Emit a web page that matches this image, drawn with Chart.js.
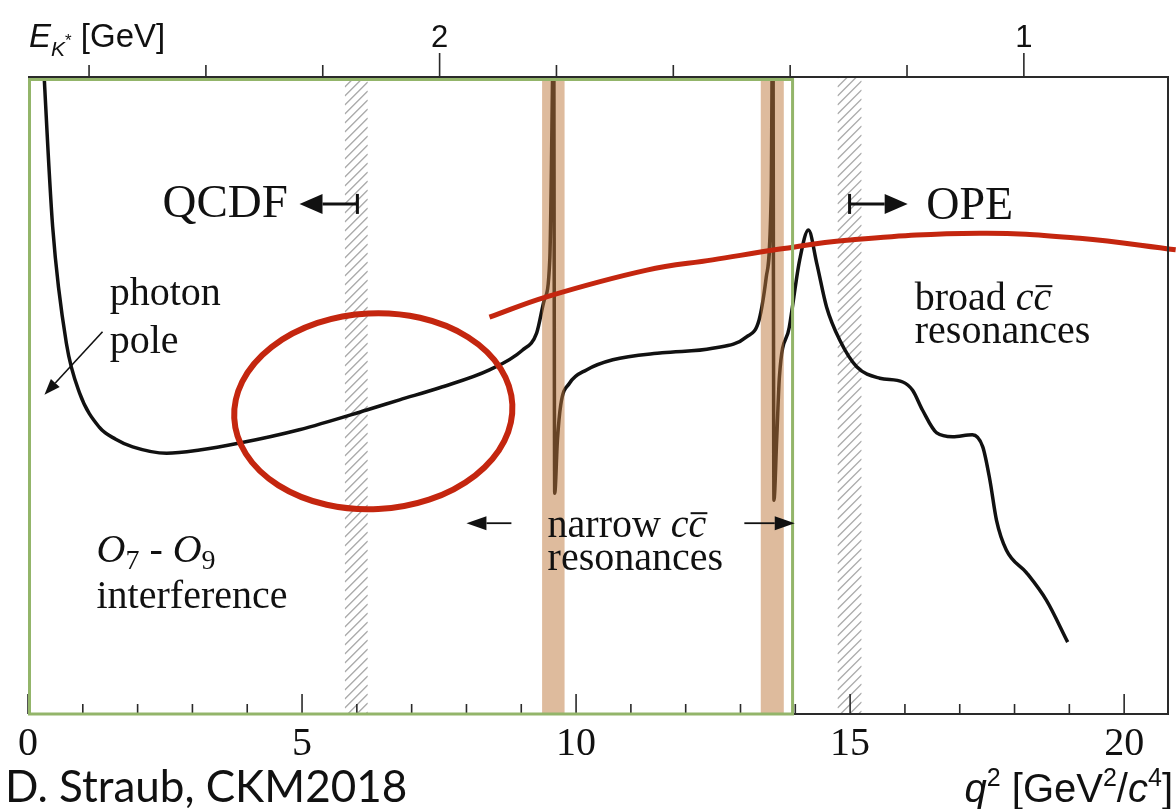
<!DOCTYPE html>
<html>
<head>
<meta charset="utf-8">
<script src="https://cdn.jsdelivr.net/npm/chart.js@4.4.1/dist/chart.umd.min.js"></script>
<style>
  html, body { margin: 0; padding: 0; background: #fff; }
</style>
</head>
<body>
<canvas id="chart" width="1176" height="809"></canvas>
<script>
// ─── Data ─────────────────────────────────────────────────────────────────────

// q² in GeV²/c⁴ ; curve height in arbitrary units (0 = frame bottom, 100 = frame top)
const Q2_MAX = 20.8;
const Y_MAX = 100;

// E_K* [GeV] at the left and right edges of the frame (top axis)
const EK_AT_LEFT = 2.7045;
const EK_AT_RIGHT = 0.7533;

const CURVE_Q2 = [
  0.28, 0.30, 0.45, 0.70, 0.94, 1.30, 1.60, 1.91, 2.53, 3.13, 3.86, 4.95, 6.18, 6.78, 7.51,
  8.42, 9.02, 9.28, 9.42, 9.52, 9.57, 9.59, 9.61, 9.66, 9.72, 9.88, 10.19, 10.67,
  11.57, 12.49, 13.11, 13.34, 13.47, 13.56, 13.59, 13.61, 13.66, 13.71, 13.89, 14.08,
  14.24, 14.39, 14.57, 14.81, 15.12, 15.54, 15.96, 16.14, 16.32, 16.58, 16.87, 17.23,
  17.42, 17.55, 17.67, 17.85, 18.22, 18.58, 18.97,
];
const CURVE_Y = [
  103, 99.4, 76.6, 58.3, 50.5, 45.1, 43.2, 42.0, 41.0, 41.5, 42.6, 44.7, 47.8, 49.4, 51.3,
  54.1, 57.2, 59.9, 65.1, 71.4, 99.7, 115, 34.7, 43.1, 48.6, 52.0, 54.1, 55.7,
  56.8, 57.5, 59.3, 62.0, 68.7, 81.9, 115, 33.6, 43.1, 53.0, 60.8, 71.4,
  76.1, 70.9, 64.0, 58.8, 54.6, 52.8, 52.2, 50.9, 47.8, 44.2, 43.6, 43.9,
  42.0, 36.8, 30.5, 25.8, 22.2, 17.9, 11.3,
];

// red hand-drawn stroke over the plot
const ARC_Q2 = [8.42, 9.46, 11.29, 12.49, 13.72, 14.94, 17.36, 19.19, 20.94];
const ARC_Y = [62.4, 65.6, 69.8, 71.4, 73.1, 74.5, 75.6, 74.8, 73.0];

// vetoed regions
const NARROW_BANDS = [[9.38, 9.79], [13.37, 13.79]];
const HATCH_BANDS = [[5.78, 6.2], [14.77, 15.21]];
const GREEN_BOX = [0, 13.95];

// axes
const Q2_TICKS = [0, 1, 2, 3, 4, 5, 6, 7, 8, 9, 10, 11, 12, 13, 14, 15, 16, 17, 18, 19, 20];
const Q2_LABELS = [0, 5, 10, 15, 20];
const EK_TICKS = [2.6, 2.4, 2.2, 2.0, 1.8, 1.6, 1.4, 1.2, 1.0];
const EK_LABELS = [2, 1];

// ─── Styling / annotation placement ─────────────────────────────────────────────

const SERIF = '"Liberation Serif", "Times New Roman", serif';
const SANS = '"Liberation Sans", Arial, sans-serif';
const RED = '#c4260f';

const RING = { q2: 6.30, y: 47.6, dq2: 2.54, dy: 15.4, tilt: -0.05 };

const serif = (size, italic) => `${italic ? 'italic ' : ''}${size}px ${SERIF}`;
const sans = (size, italic) => `${italic ? 'italic ' : ''}${size}px ${SANS}`;

// parts: [text, font, dy, overline]
const rich = (ctx, parts, x, y, align = 'left') => {
  let w = 0;
  parts.forEach(([t, f]) => { ctx.font = f; w += ctx.measureText(t).width; });
  let cx = align === 'right' ? x - w : x;
  ctx.textAlign = 'left';
  parts.forEach(([t, f, dy = 0, bar = false]) => {
    ctx.font = f;
    const tw = ctx.measureText(t).width;
    ctx.fillText(t, cx, y + dy);
    if (bar) {
      const size = parseFloat(f.match(/(\d+)px/)[1]);
      ctx.lineWidth = 2;
      ctx.beginPath();
      ctx.moveTo(cx + 2, y + dy - size * 0.6);
      ctx.lineTo(cx + tw + 1, y + dy - size * 0.6);
      ctx.stroke();
    }
    cx += tw;
  });
};

const arrow = (ctx, x1, y1, x2, y2, head, half, width) => {
  const ang = Math.atan2(y2 - y1, x2 - x1);
  const bx = x2 - head * Math.cos(ang);
  const by = y2 - head * Math.sin(ang);
  ctx.lineWidth = width;
  ctx.beginPath();
  ctx.moveTo(x1, y1);
  ctx.lineTo(bx, by);
  ctx.stroke();
  ctx.beginPath();
  ctx.moveTo(x2, y2);
  ctx.lineTo(bx + half * Math.sin(ang), by - half * Math.cos(ang));
  ctx.lineTo(bx - half * Math.sin(ang), by + half * Math.cos(ang));
  ctx.closePath();
  ctx.fill();
};

// ─── Drawing helpers ──────────────────────────────────────────────────────────

const drawHatch = (chart) => {
  const { ctx, chartArea: { top, bottom } } = chart;
  const xs = chart.scales.x;
  ctx.save();
  ctx.strokeStyle = '#acacac';
  ctx.lineWidth = 1.4;
  HATCH_BANDS.forEach(([a, b]) => {
    const x0 = xs.getPixelForValue(a);
    const x1 = xs.getPixelForValue(b);
    const w = x1 - x0;
    ctx.save();
    ctx.beginPath();
    ctx.rect(x0, top, w, bottom - top);
    ctx.clip();
    ctx.beginPath();
    for (let y = top - w; y < bottom + w; y += 9) {
      ctx.moveTo(x0, y + w);
      ctx.lineTo(x1, y);
    }
    ctx.stroke();
    ctx.restore();
  });
  ctx.restore();
};

const drawBands = (chart) => {
  const { ctx, chartArea: { top, bottom } } = chart;
  const xs = chart.scales.x;
  ctx.save();
  ctx.fillStyle = 'rgba(190, 120, 60, 0.5)';
  NARROW_BANDS.forEach(([a, b]) => {
    const x0 = xs.getPixelForValue(a);
    ctx.fillRect(x0, top, xs.getPixelForValue(b) - x0, bottom - top);
  });
  ctx.restore();
};

const drawFrame = (chart) => {
  const { ctx, chartArea: { left, right, top, bottom } } = chart;
  const xs = chart.scales.x;
  const xt = chart.scales.xTop;
  ctx.save();
  ctx.strokeStyle = '#2a2a2a';
  ctx.lineWidth = 2;
  ctx.beginPath();
  ctx.moveTo(left, top - 1);
  ctx.lineTo(right, top - 1);
  ctx.lineTo(right, bottom);
  ctx.lineTo(left, bottom);
  ctx.stroke();

  ctx.lineWidth = 1.6;
  ctx.beginPath();
  Q2_TICKS.forEach((q) => {
    const x = xs.getPixelForValue(q);
    ctx.moveTo(x, bottom);
    ctx.lineTo(x, bottom - (Q2_LABELS.includes(q) ? 20 : 10));
  });
  EK_TICKS.forEach((e) => {
    const x = xt.getPixelForValue(e);
    ctx.moveTo(x, top - 1);
    ctx.lineTo(x, top - 1 - (EK_LABELS.includes(e) ? 24 : 12));
  });
  ctx.stroke();

  ctx.strokeStyle = '#93b56a';
  ctx.lineWidth = 3;
  const gx0 = xs.getPixelForValue(GREEN_BOX[0]) + 1.5;
  const gx1 = xs.getPixelForValue(GREEN_BOX[1]);
  ctx.strokeRect(gx0, top + 1.5, gx1 - gx0, bottom - top - 1.5);

  ctx.fillStyle = '#111';
  ctx.textAlign = 'center';
  ctx.textBaseline = 'alphabetic';
  ctx.font = serif(40);
  Q2_LABELS.forEach((q) => ctx.fillText(String(q), xs.getPixelForValue(q), bottom + 41));
  ctx.font = sans(31);
  EK_LABELS.forEach((e) => ctx.fillText(String(e), xt.getPixelForValue(e), top - 31));
  ctx.restore();
};

const drawRing = (chart) => {
  const { ctx } = chart;
  const xs = chart.scales.x;
  const ys = chart.scales.y;
  const cx = xs.getPixelForValue(RING.q2);
  const cy = ys.getPixelForValue(RING.y);
  const rx = xs.getPixelForValue(RING.q2 + RING.dq2) - cx;
  const ry = cy - ys.getPixelForValue(RING.y + RING.dy);
  ctx.save();
  ctx.strokeStyle = RED;
  ctx.lineWidth = 6;
  ctx.beginPath();
  ctx.ellipse(cx, cy, rx, ry, RING.tilt, 0, Math.PI * 2);
  ctx.stroke();
  ctx.restore();
};

const drawNotes = (chart) => {
  const { ctx } = chart;
  const X = (q) => chart.scales.x.getPixelForValue(q);
  const Y = (v) => chart.scales.y.getPixelForValue(v);
  ctx.save();
  ctx.fillStyle = '#111';
  ctx.strokeStyle = '#111';
  ctx.textBaseline = 'alphabetic';

  rich(ctx, [['QCDF', serif(47)]], X(2.455), Y(78.1));
  arrow(ctx, X(6.01), Y(80.2), X(4.954), Y(80.2), 23, 10, 3);
  ctx.beginPath();
  ctx.moveTo(X(6.01), Y(80.2) - 10);
  ctx.lineTo(X(6.01), Y(80.2) + 10);
  ctx.stroke();

  rich(ctx, [['OPE', serif(46)]], X(16.39), Y(77.8));
  arrow(ctx, X(14.99), Y(80.2), X(16.05), Y(80.2), 23, 10, 3);
  ctx.beginPath();
  ctx.moveTo(X(14.99), Y(80.2) - 10);
  ctx.lineTo(X(14.99), Y(80.2) + 10);
  ctx.stroke();

  rich(ctx, [['photon', serif(40)]], X(1.49), Y(64.3));
  rich(ctx, [['pole', serif(40)]], X(1.49), Y(56.8));
  arrow(ctx, X(1.36), Y(60.1), X(0.30), Y(50.2), 16, 6, 1.6);

  rich(ctx, [['broad ', serif(40)], ['c', serif(40, true)], ['c', serif(40, true), 0, true]], X(16.18), Y(63.5));
  rich(ctx, [['resonances', serif(40)]], X(16.18), Y(58.3));

  rich(ctx, [['narrow ', serif(40)], ['c', serif(40, true)], ['c', serif(40, true), 0, true]], X(9.48), Y(27.8));
  rich(ctx, [['resonances', serif(40)]], X(9.48), Y(22.6));
  arrow(ctx, X(8.82), Y(30), X(8.0), Y(30), 20, 7, 1.8);
  arrow(ctx, X(13.07), Y(30), X(13.99), Y(30), 20, 7, 1.8);

  rich(ctx, [
    ['O', serif(40, true)], ['7', serif(28), 7], [' - ', serif(40)],
    ['O', serif(40, true)], ['9', serif(28), 7],
  ], X(1.25), Y(23.9));
  rich(ctx, [['interference', serif(40)]], X(1.25), Y(16.7));

  // axis titles and credit line
  rich(ctx, [
    ['E', sans(33, true)], ['K', sans(21, true), 9], ['*', sans(17), -1], [' [GeV]', sans(33)],
  ], 29, 47);
  rich(ctx, [
    ['q', sans(40, true)], ['2', sans(25), -16], [' [GeV', sans(40)], ['2', sans(25), -16],
    ['/', sans(40)], ['c', sans(40, true)], ['4', sans(25), -16], [']', sans(40)],
  ], 1173, 802, 'right');
  ctx.font = '44px Lato, "Open Sans", sans-serif';
  ctx.textAlign = 'left';
  ctx.fillText('D. Straub, CKM2018', 5, 802);
  ctx.restore();
};

// ─── Chart ────────────────────────────────────────────────────────────────────

const annotations = {
  id: 'annotations',
  beforeDatasetsDraw: (chart) => drawHatch(chart),
  afterDatasetDraw: (chart, args) => {
    if (args.index === 0) drawBands(chart);
  },
  afterDatasetsDraw: (chart) => {
    drawFrame(chart);
    drawRing(chart);
    drawNotes(chart);
  },
};

const toPoints = (xs, ys) => xs.map((x, i) => ({ x, y: ys[i] }));

new Chart(document.getElementById('chart'), {
  type: 'line',
  data: {
    datasets: [
      {
        label: 'dΓ/dq²',
        data: toPoints(CURVE_Q2, CURVE_Y),
        borderColor: '#111',
        borderWidth: 3.5,
        pointRadius: 0,
        cubicInterpolationMode: 'monotone',
        xAxisID: 'x',
        yAxisID: 'y',
        order: 2,
      },
      {
        label: 'annotation',
        data: toPoints(ARC_Q2, ARC_Y),
        borderColor: RED,
        borderWidth: 5,
        pointRadius: 0,
        tension: 0.4,
        clip: false,
        xAxisID: 'x',
        yAxisID: 'y',
        order: 1,
      },
    ],
  },
  options: {
    responsive: false,
    animation: false,
    events: [],
    layout: { padding: { left: 28, right: 8, top: 78, bottom: 95 } },
    plugins: { legend: { display: false }, tooltip: { enabled: false } },
    scales: {
      x: { type: 'linear', min: 0, max: Q2_MAX, display: false },
      xTop: {
        type: 'linear', position: 'top', reverse: true,
        min: EK_AT_RIGHT, max: EK_AT_LEFT, display: false,
      },
      y: { type: 'linear', min: 0, max: Y_MAX, display: false },
    },
  },
  plugins: [annotations],
});
</script>
</body>
</html>
